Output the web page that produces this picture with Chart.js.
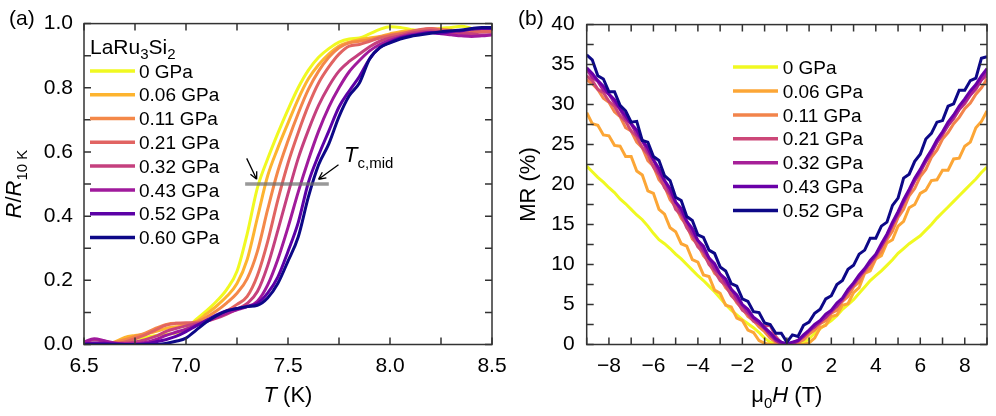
<!DOCTYPE html>
<html>
<head>
<meta charset="utf-8">
<script src="https://cdn.jsdelivr.net/npm/chart.js@4.4.1/dist/chart.umd.min.js"></script>
<style>
  body { margin: 0; background: #fff; }
  #wrap { position: relative; width: 996px; height: 416px; overflow: hidden; }
  canvas { position: absolute; top: 0; }
  #grafA { left: 0; }
  #grafB { left: 496px; }
</style>
</head>
<body>
<div id="wrap">
  <canvas id="grafA" width="520" height="416"></canvas>
  <canvas id="grafB" width="500" height="416"></canvas>
</div>
<script>
// ---- Panel (a): R/R10K vs T ----
const tempK = [6.50,6.55,6.60,6.65,6.70,6.75,6.80,6.85,6.90,6.95,7.00,7.05,7.10,7.15,7.20,7.25,7.30,7.35,7.40,7.45,7.50,
               7.55,7.60,7.65,7.70,7.75,7.80,7.85,7.90,7.95,8.00,8.05,8.10,8.15,8.20,8.25,8.30,8.35,8.40,8.45,8.50];
const r0   = [0.000,0.000,0.002,0.005,0.012,0.018,0.022,0.028,0.032,0.036,0.048,0.078,0.105,0.135,0.172,0.228,0.345,0.488,0.578,0.658,0.732,
              0.800,0.855,0.895,0.922,0.942,0.952,0.955,0.968,0.982,0.990,0.988,0.982,0.978,0.980,0.985,0.988,0.992,0.985,0.978,0.980];
const r006 = [0.000,0.000,0.000,0.008,0.022,0.028,0.032,0.040,0.050,0.055,0.060,0.072,0.095,0.120,0.150,0.190,0.265,0.395,0.525,0.612,0.690,
              0.765,0.828,0.872,0.905,0.930,0.942,0.950,0.955,0.960,0.968,0.975,0.978,0.975,0.978,0.982,0.980,0.978,0.982,0.985,0.982];
const r011 = [0.000,0.000,0.002,0.006,0.015,0.025,0.035,0.050,0.062,0.066,0.065,0.070,0.085,0.105,0.130,0.160,0.205,0.290,0.420,0.540,0.635,
              0.720,0.795,0.852,0.895,0.925,0.940,0.945,0.950,0.958,0.965,0.970,0.975,0.980,0.985,0.982,0.978,0.975,0.978,0.980,0.978];
const r021 = [0.000,0.004,0.003,0.002,0.008,0.018,0.030,0.045,0.060,0.066,0.068,0.068,0.075,0.090,0.105,0.125,0.150,0.215,0.320,0.450,0.565,
              0.660,0.745,0.815,0.865,0.905,0.930,0.935,0.945,0.955,0.962,0.968,0.975,0.982,0.985,0.980,0.975,0.970,0.972,0.975,0.975];
const r032 = [0.005,0.015,0.010,0.004,0.004,0.008,0.015,0.025,0.040,0.050,0.058,0.065,0.072,0.082,0.095,0.110,0.128,0.165,0.245,0.355,0.470,
              0.580,0.668,0.745,0.805,0.852,0.882,0.905,0.928,0.945,0.955,0.962,0.970,0.975,0.978,0.975,0.972,0.970,0.968,0.965,0.965];
const r043 = [0.008,0.018,0.012,0.005,0.002,0.002,0.006,0.015,0.028,0.038,0.048,0.060,0.072,0.085,0.098,0.108,0.118,0.135,0.185,0.265,0.365,
              0.475,0.575,0.665,0.740,0.800,0.850,0.885,0.915,0.935,0.948,0.958,0.965,0.970,0.972,0.968,0.965,0.962,0.960,0.962,0.965];
const r052 = [0.002,0.005,0.004,0.002,0.000,0.000,0.002,0.008,0.015,0.025,0.040,0.058,0.075,0.092,0.105,0.112,0.118,0.128,0.160,0.210,0.290,
              0.380,0.505,0.590,0.665,0.740,0.790,0.835,0.890,0.925,0.942,0.955,0.962,0.968,0.972,0.970,0.975,0.978,0.982,0.985,0.985];
const r060 = [0.000,0.000,0.000,0.000,0.000,0.000,0.000,0.000,0.003,0.010,0.020,0.045,0.070,0.090,0.105,0.112,0.118,0.122,0.145,0.190,0.260,
              0.335,0.460,0.560,0.625,0.710,0.775,0.815,0.890,0.925,0.940,0.952,0.960,0.965,0.970,0.975,0.978,0.980,0.985,0.988,0.988];
const pressoesA = ['0 GPa','0.06 GPa','0.11 GPa','0.21 GPa','0.32 GPa','0.43 GPa','0.52 GPa','0.60 GPa'];
const seriesA = [r0, r006, r011, r021, r032, r043, r052, r060];
const coresA = ['#f0f921','#fdb42f','#f48849','#e16462','#c5407e','#a01a9c','#5c01a6','#0d0887'];

// ---- Panel (b): MR vs mu0H ----
const campoT = [-9,-8.75,-8.5,-8.25,-8,-7.75,-7.5,-7.25,-7,-6.75,-6.5,-6.25,-6,-5.75,-5.5,-5.25,-5,-4.75,-4.5,-4.25,-4,
                -3.75,-3.5,-3.25,-3,-2.75,-2.5,-2.25,-2,-1.75,-1.5,-1.25,-1,-0.75,-0.5,-0.25,0,
                0.25,0.5,0.75,1,1.25,1.5,1.75,2,2.25,2.5,2.75,3,3.25,3.5,3.75,4,4.25,4.5,4.75,5,
                5.25,5.5,5.75,6,6.25,6.5,6.75,7,7.25,7.5,7.75,8,8.25,8.5,8.75,9];
const mr0   = [22.3,21.6,20.9,20.3,19.6,19.0,18.2,17.6,16.9,16.2,15.6,14.8,13.9,13.1,12.6,12.0,11.3,10.7,10.0,9.3,8.6,
               8.0,7.3,6.6,5.8,5.0,4.3,3.7,3.1,2.6,2.1,1.5,0.8,0.3,0.05,0.0,0.0,
               0.0,0.05,0.25,0.7,1.4,2.0,2.5,3.0,3.6,4.4,5.0,5.6,6.4,7.2,8.0,8.6,9.2,9.9,10.6,11.4,
               12.0,12.6,13.1,13.6,14.3,15.0,15.8,16.5,17.2,17.9,18.6,19.3,20.0,20.7,21.5,22.2];
const mr006 = [29.0,27.6,27.4,26.2,26.1,24.9,24.8,23.5,23.5,21.7,21.2,19.2,18.9,16.9,16.3,14.6,14.1,12.6,12.3,10.6,10.3,
               8.7,8.5,6.8,6.4,4.9,4.7,3.3,3.0,1.8,1.5,0.5,0.15,0.0,0.0,0.0,0.0,
               0.0,0.0,0.0,0.2,0.8,2.1,2.4,3.5,3.7,4.9,5.1,6.5,7.1,8.9,9.2,10.7,11.1,12.7,13.1,14.8,
               15.4,17.1,17.5,18.9,19.3,20.5,20.6,21.8,21.8,23.2,23.3,24.8,25.3,27.1,27.9,29.2];
const mr011 = [33.1,32.6,31.9,30.8,30.3,29.1,28.5,27.1,26.7,25.3,24.6,23.0,22.3,20.6,19.8,18.1,17.2,15.8,14.9,13.2,12.5,
               11.1,10.3,8.9,8.3,7.1,6.4,5.2,4.5,3.5,3.0,2.2,1.6,0.8,0.3,0.0,0.0,
               0.0,0.2,0.6,1.3,1.8,2.6,3.0,3.9,4.3,5.4,6.0,7.2,7.8,9.0,9.6,10.8,11.6,13.1,14.2,15.9,
               16.9,18.6,19.5,21.0,21.9,23.4,24.3,25.7,26.5,27.6,28.4,29.5,30.2,31.3,32.1,33.2];
const mr021 = [33.6,33.0,31.9,31.5,30.4,29.8,28.6,27.9,26.7,26.0,24.6,23.8,22.2,21.2,19.6,18.7,16.9,16.2,14.6,13.6,12.2,
               11.5,10.0,9.2,8.0,7.4,6.1,5.4,4.3,3.8,2.9,2.6,2.3,2.4,1.0,0.2,0.0,
               0.2,0.5,1.0,1.6,2.3,2.7,3.5,4.0,4.9,5.5,6.7,7.4,8.5,9.2,10.3,11.0,12.3,13.4,15.0,16.2,
               17.8,19.0,20.5,21.5,22.9,23.9,25.3,26.2,27.4,28.2,29.4,30.1,31.2,31.9,33.1,33.6];
const mr032 = [34.4,33.4,32.9,31.8,31.3,30.2,29.4,28.2,27.6,26.3,25.5,24.1,23.1,21.5,20.5,19.0,17.8,16.5,15.4,13.9,13.0,
               11.8,10.8,9.5,8.8,7.7,6.9,5.7,4.9,4.0,3.3,2.6,2.0,1.2,0.5,0.1,0.0,
               0.1,0.4,1.0,1.7,2.2,2.9,3.4,4.2,4.8,5.7,6.6,7.6,8.4,9.4,10.2,11.2,12.3,13.6,15.0,16.4,
               17.8,19.2,20.5,21.7,22.9,24.1,25.3,26.4,27.4,28.4,29.4,30.3,31.2,32.1,33.1,34.1];
const mr043 = [34.6,33.9,33.0,32.3,31.3,30.6,29.5,28.6,27.6,26.8,25.5,24.6,23.1,22.0,20.5,19.5,17.8,17.0,15.4,14.5,13.0,
               12.3,10.8,10.1,8.8,8.2,6.9,6.2,5.0,4.4,3.4,2.9,2.1,1.5,0.7,0.3,0.1,
               0.3,0.5,1.2,1.8,2.5,3.0,3.8,4.3,5.2,5.8,6.9,7.7,8.7,9.5,10.5,11.3,12.6,13.8,15.3,16.6,
               18.1,19.4,20.8,21.9,23.2,24.3,25.6,26.6,27.8,28.7,29.8,30.7,31.7,32.5,33.6,34.5];
const mr052 = [36.2,35.6,33.6,33.2,31.6,31.6,29.9,29.2,27.8,27.9,25.5,25.3,23.5,23.0,21.1,20.5,18.4,18.0,16.0,15.5,13.7,
               13.4,11.8,11.4,9.7,9.2,7.6,7.3,5.7,5.4,4.1,4.0,2.7,2.5,1.4,1.4,0.3,
               1.2,1.0,2.4,2.8,3.9,4.4,5.7,6.1,7.5,8.0,9.4,9.9,11.3,11.8,13.3,13.3,14.8,15.3,17.4,18.3,
               20.8,21.3,22.9,23.8,25.7,26.4,27.8,28.0,29.8,30.1,31.8,31.8,33.0,33.3,35.8,36.0];
const pressoesB = ['0 GPa','0.06 GPa','0.11 GPa','0.21 GPa','0.32 GPa','0.43 GPa','0.52 GPa'];
const seriesB = [mr0, mr006, mr011, mr021, mr032, mr043, mr052];
const coresB = ['#f0f921','#fca636','#f2844b','#cc4778','#a62098','#6a00a8','#0d0887'];

const FAMILIA = '"Liberation Sans", Arial, Helvetica, sans-serif';
Chart.defaults.font.family = FAMILIA;

// Texto com itálico e subscrito: partes = [[texto, 'n'|'i'|'s'], ...]
function textoRico(ctx, partes, x, y, tam, alinhar) {
    const sub = Math.round(tam * 0.7);
    const fonte = p => (p[1] === 'i' ? 'italic ' : '') + (p[1] === 's' ? sub : tam) + 'px ' + FAMILIA;
    let largura = 0;
    partes.forEach(p => { ctx.font = fonte(p); largura += ctx.measureText(p[0]).width; });
    let cx = alinhar === 'center' ? x - largura / 2 : x;
    ctx.textAlign = 'left';
    ctx.textBaseline = 'alphabetic';
    ctx.fillStyle = '#000';
    partes.forEach(p => {
        ctx.font = fonte(p);
        ctx.fillText(p[0], cx, p[1] === 's' ? y + tam * 0.28 : y);
        cx += ctx.measureText(p[0]).width;
    });
}

// Moldura com ticks para dentro nos quatro lados
const molduraPlugin = {
    id: 'moldura',
    afterDatasetsDraw(chart) {
        const { ctx, chartArea: a, scales } = chart;
        ctx.save();
        ctx.strokeStyle = '#333';
        ctx.lineWidth = 1.5;
        ctx.beginPath();
        scales.x.ticks.forEach(t => {
            const px = scales.x.getPixelForValue(t.value);
            ctx.moveTo(px, a.bottom); ctx.lineTo(px, a.bottom - 7);
            ctx.moveTo(px, a.top); ctx.lineTo(px, a.top + 7);
        });
        scales.y.ticks.forEach(t => {
            const py = scales.y.getPixelForValue(t.value);
            ctx.moveTo(a.left, py); ctx.lineTo(a.left + 7, py);
            ctx.moveTo(a.right, py); ctx.lineTo(a.right - 7, py);
        });
        ctx.stroke();
        ctx.strokeRect(a.left, a.top, a.width, a.height);
        ctx.restore();
    }
};

function seta(ctx, x0, y0, x1, y1) {
    const ang = Math.atan2(y1 - y0, x1 - x0);
    ctx.beginPath();
    ctx.moveTo(x0, y0); ctx.lineTo(x1, y1);
    ctx.moveTo(x1, y1); ctx.lineTo(x1 - 8 * Math.cos(ang - 0.45), y1 - 8 * Math.sin(ang - 0.45));
    ctx.moveTo(x1, y1); ctx.lineTo(x1 - 8 * Math.cos(ang + 0.45), y1 - 8 * Math.sin(ang + 0.45));
    ctx.stroke();
}

// Legenda, rótulos e anotações do painel (a)
const textosA = {
    id: 'textosA',
    afterDraw(chart) {
        const { ctx, chartArea: a, scales } = chart;
        const x = scales.x, y = scales.y;
        ctx.save();
        // barra cinza em R = 0.5 e setas
        ctx.strokeStyle = 'rgba(110,110,110,0.7)';
        ctx.lineWidth = 3.5;
        ctx.beginPath();
        ctx.moveTo(x.getPixelForValue(7.29), y.getPixelForValue(0.5));
        ctx.lineTo(x.getPixelForValue(7.70), y.getPixelForValue(0.5));
        ctx.stroke();
        ctx.strokeStyle = '#000';
        ctx.lineWidth = 1.3;
        seta(ctx, x.getPixelForValue(7.2975), y.getPixelForValue(0.58), x.getPixelForValue(7.3465), y.getPixelForValue(0.515));
        seta(ctx, x.getPixelForValue(7.7475), y.getPixelForValue(0.56), x.getPixelForValue(7.6495), y.getPixelForValue(0.515));
        textoRico(ctx, [['T', 'i'], ['c,mid', 's']], x.getPixelForValue(7.775), y.getPixelForValue(0.57), 22);

        // legenda
        textoRico(ctx, [['LaRu', 'n'], ['3', 's'], ['Si', 'n'], ['2', 's']], a.left + 6, a.top + 30, 21);
        pressoesA.forEach((p, i) => {
            const cy = a.top + 47.3 + i * 23.8;
            ctx.strokeStyle = coresA[i];
            ctx.lineWidth = 3.5;
            ctx.beginPath();
            ctx.moveTo(a.left + 6, cy); ctx.lineTo(a.left + 51, cy);
            ctx.stroke();
            textoRico(ctx, [[p, 'n']], a.left + 55, cy + 6.6, 19);
        });

        // títulos dos eixos
        textoRico(ctx, [['(a)', 'n']], 9, 25, 21);
        textoRico(ctx, [['T', 'i'], [' (K)', 'n']], (a.left + a.right) / 2, 401.5, 22, 'center');
        ctx.translate(21, (a.top + a.bottom) / 2);
        ctx.rotate(-Math.PI / 2);
        textoRico(ctx, [['R', 'i'], ['/', 'n'], ['R', 'i'], ['10 K', 's']], 0, 0, 22, 'center');
        ctx.restore();
    }
};

// Legenda e rótulos do painel (b)
const textosB = {
    id: 'textosB',
    afterDraw(chart) {
        const { ctx, chartArea: a } = chart;
        ctx.save();
        pressoesB.forEach((p, i) => {
            const cy = a.top + 42.5 + i * 23.9;
            ctx.strokeStyle = coresB[i];
            ctx.lineWidth = 3.5;
            ctx.beginPath();
            ctx.moveTo(a.left + 146.3, cy); ctx.lineTo(a.left + 191.3, cy);
            ctx.stroke();
            textoRico(ctx, [[p, 'n']], a.left + 196, cy + 6.6, 19);
        });
        textoRico(ctx, [['(b)', 'n']], 22, 25, 21);
        textoRico(ctx, [['\u03bc', 'n'], ['0', 's'], ['H', 'i'], [' (T)', 'n']], (a.left + a.right) / 2, 401.5, 22, 'center');
        ctx.translate(39, (a.top + a.bottom) / 2);
        ctx.rotate(-Math.PI / 2);
        textoRico(ctx, [['MR (%)', 'n']], 0, 0, 22, 'center');
        ctx.restore();
    }
};

const fonteTicks = { size: 21 };

function montarDatasets(series, xs, cores, nomes, suave) {
    return series.map((s, i) => ({
        label: nomes[i],
        data: xs.map((v, k) => ({ x: v, y: s[k] })),
        borderColor: cores[i],
        borderWidth: 3,
        pointRadius: 0,
        fill: false,
        cubicInterpolationMode: suave ? 'monotone' : 'default',
        tension: 0,
        order: series.length - i
    }));
}

new Chart(document.getElementById('grafA'), {
    type: 'line',
    data: { datasets: montarDatasets(seriesA, tempK, coresA, pressoesA, true) },
    options: {
        responsive: false,
        animation: false,
        layout: { padding: { top: 15, right: 28, left: 0, bottom: 0 } },
        plugins: { legend: { display: false }, tooltip: { enabled: false } },
        scales: {
            x: {
                type: 'linear', min: 6.5, max: 8.5,
                grid: { display: false, drawTicks: false },
                border: { display: false },
                ticks: {
                    stepSize: 0.25, autoSkip: false, maxRotation: 0, padding: 9, color: '#000', font: fonteTicks,
                    callback: v => Math.abs(v * 2 - Math.round(v * 2)) < 1e-6 ? v.toFixed(1) : ''
                },
                afterFit: s => { s.height = 71.5; }
            },
            y: {
                min: 0, max: 1,
                grid: { display: false, drawTicks: false },
                border: { display: false },
                ticks: {
                    stepSize: 0.1, autoSkip: false, padding: 11, color: '#000', font: fonteTicks,
                    callback: v => Math.round(v * 10) % 2 === 0 ? v.toFixed(1) : ''
                },
                afterFit: s => { s.width = 84; }
            }
        }
    },
    plugins: [molduraPlugin, textosA]
});

new Chart(document.getElementById('grafB'), {
    type: 'line',
    data: { datasets: montarDatasets(seriesB, campoT, coresB, pressoesB, false) },
    options: {
        responsive: false,
        animation: false,
        layout: { padding: { top: 15, right: 4, left: 0, bottom: 0 } },
        plugins: { legend: { display: false }, tooltip: { enabled: false } },
        scales: {
            x: {
                type: 'linear', min: -9, max: 9,
                grid: { display: false, drawTicks: false },
                border: { display: false },
                ticks: {
                    stepSize: 1, autoSkip: false, maxRotation: 0, padding: 9, color: '#000', font: fonteTicks,
                    callback: v => v % 2 === 0 ? (v < 0 ? '\u2212' + Math.abs(v) : String(v)) : ''
                },
                afterFit: s => { s.height = 71.5; }
            },
            y: {
                min: 0, max: 40,
                grid: { display: false, drawTicks: false },
                border: { display: false },
                ticks: {
                    stepSize: 2.5, autoSkip: false, padding: 12, color: '#000', font: fonteTicks,
                    callback: v => v % 5 === 0 ? String(v) : ''
                },
                afterFit: s => { s.width = 90.7; }
            }
        }
    },
    plugins: [molduraPlugin, textosB]
});
</script>
</body>
</html>
